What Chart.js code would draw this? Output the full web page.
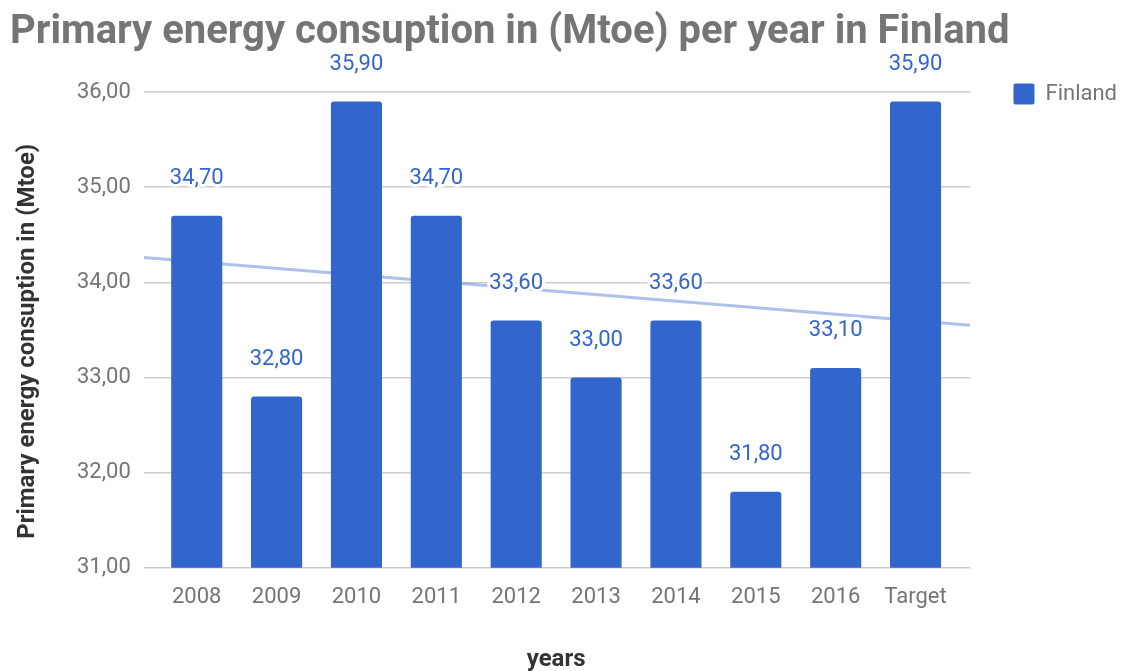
<!DOCTYPE html>
<html>
<head>
<meta charset="utf-8">
<script src="https://cdn.jsdelivr.net/npm/chart.js@4"></script>
<style>
  html, body { margin: 0; padding: 0; background: #fff; }
  #wrap { width: 1127px; height: 671px; position: relative; }
</style>
</head>
<body>
<div id="wrap"><canvas id="chart"></canvas></div>
<script>
// data
const years = ['2008','2009','2010','2011','2012','2013','2014','2015','2016','Target'];
const finland = [34.7, 32.8, 35.9, 34.7, 33.6, 33.0, 33.6, 31.8, 33.1, 35.9];
// trend line end points (category index, value)
const trendX = [-0.66, 9.68];
const trendY = [34.26, 33.55];
const yTicks = [31, 32, 33, 34, 35, 36];

const blue = '#3366cc';
const grey = '#757575';
const fmt = v => v.toFixed(2).replace('.', ',');

Chart.defaults.font.family = 'Roboto';
Chart.defaults.color = grey;

// value labels above the bars, with a white halo
const barLabels = {
  id: 'barLabels',
  afterDatasetsDraw(chart) {
    const ctx = chart.ctx;
    const meta = chart.getDatasetMeta(0);
    ctx.save();
    ctx.font = '22px Roboto';
    ctx.textAlign = 'center';
    ctx.textBaseline = 'middle';
    ctx.lineJoin = 'round';
    meta.data.forEach((bar, i) => {
      const txt = fmt(finland[i]);
      ctx.strokeStyle = '#fff';
      ctx.lineWidth = 6;
      ctx.strokeText(txt, bar.x, bar.y - 37);
      ctx.fillStyle = blue;
      ctx.fillText(txt, bar.x, bar.y - 37);
    });
    ctx.restore();
  }
};

const keepTicks = scale => {
  scale.ticks = scale.ticks.filter(t => yTicks.includes(t.value));
};

new Chart(document.getElementById('chart'), {
  data: {
    labels: years,
    datasets: [
      {
        type: 'bar', label: 'Finland', data: finland,
        backgroundColor: blue, borderWidth: 0, borderRadius: 3,
        grouped: false, categoryPercentage: 1, barPercentage: 0.64,
        xAxisID: 'x', yAxisID: 'y', order: 1
      },
      {
        type: 'line', label: 'trend',
        data: trendX.map((x, i) => ({x, y: trendY[i]})),
        borderColor: 'rgba(51,102,204,0.4)', borderWidth: 3,
        pointRadius: 0, clip: false,
        xAxisID: 'xt', yAxisID: 'y', order: 2
      }
    ]
  },
  options: {
    responsive: true, maintainAspectRatio: false, animation: false,
    layout: { padding: { left: 10, right: 0, top: 0, bottom: 0 } },
    plugins: {
      title: {
        display: true, align: 'start',
        text: 'Primary energy consuption in (Mtoe) per year in Finland',
        color: grey, font: { size: 40, weight: 'bold' },
        padding: { top: 8.5, bottom: 16.5 }
      },
      legend: {
        position: 'right', align: 'start', fullSize: false,
        labels: {
          filter: item => item.datasetIndex === 0,
          boxWidth: 21, boxHeight: 21, padding: 10,
          useBorderRadius: true, borderRadius: 2,
          color: grey, font: { size: 22 }
        }
      },
      tooltip: { enabled: false }
    },
    scales: {
      x: {
        type: 'category', offset: true,
        grid: { display: false, drawTicks: false },
        border: { display: false },
        ticks: { color: grey, font: { size: 22 }, padding: 16 },
        title: {
          display: true, text: 'years', color: '#333',
          font: { size: 24, weight: 'bold' }, padding: { top: 19, bottom: -3 }
        }
      },
      xt: { type: 'linear', display: false, min: -0.5, max: 9.5 },
      y: {
        min: 31, max: 36.2,
        afterBuildTicks: keepTicks,
        grid: { color: '#cccccc', lineWidth: 1.5, drawTicks: true, tickLength: 13 },
        border: { display: false },
        ticks: { stepSize: 1, includeBounds: false, callback: v => fmt(v),
                 color: grey, font: { size: 22 }, padding: 13 },
        title: {
          display: true, text: 'Primary energy consuption in (Mtoe)       ', color: '#333',
          font: { size: 24, weight: 'bold' }, padding: { top: 3.6, bottom: 21.6 }
        }
      },
      y2: {
        position: 'right', min: 31, max: 36.2,
        afterBuildTicks: keepTicks,
        grid: { color: '#cccccc', lineWidth: 1.5, drawOnChartArea: false, tickLength: 15 },
        border: { display: false },
        ticks: { stepSize: 1, includeBounds: false, callback: () => '', padding: 16.5 }
      }
    }
  },
  plugins: [barLabels]
});
</script>
</body>
</html>
